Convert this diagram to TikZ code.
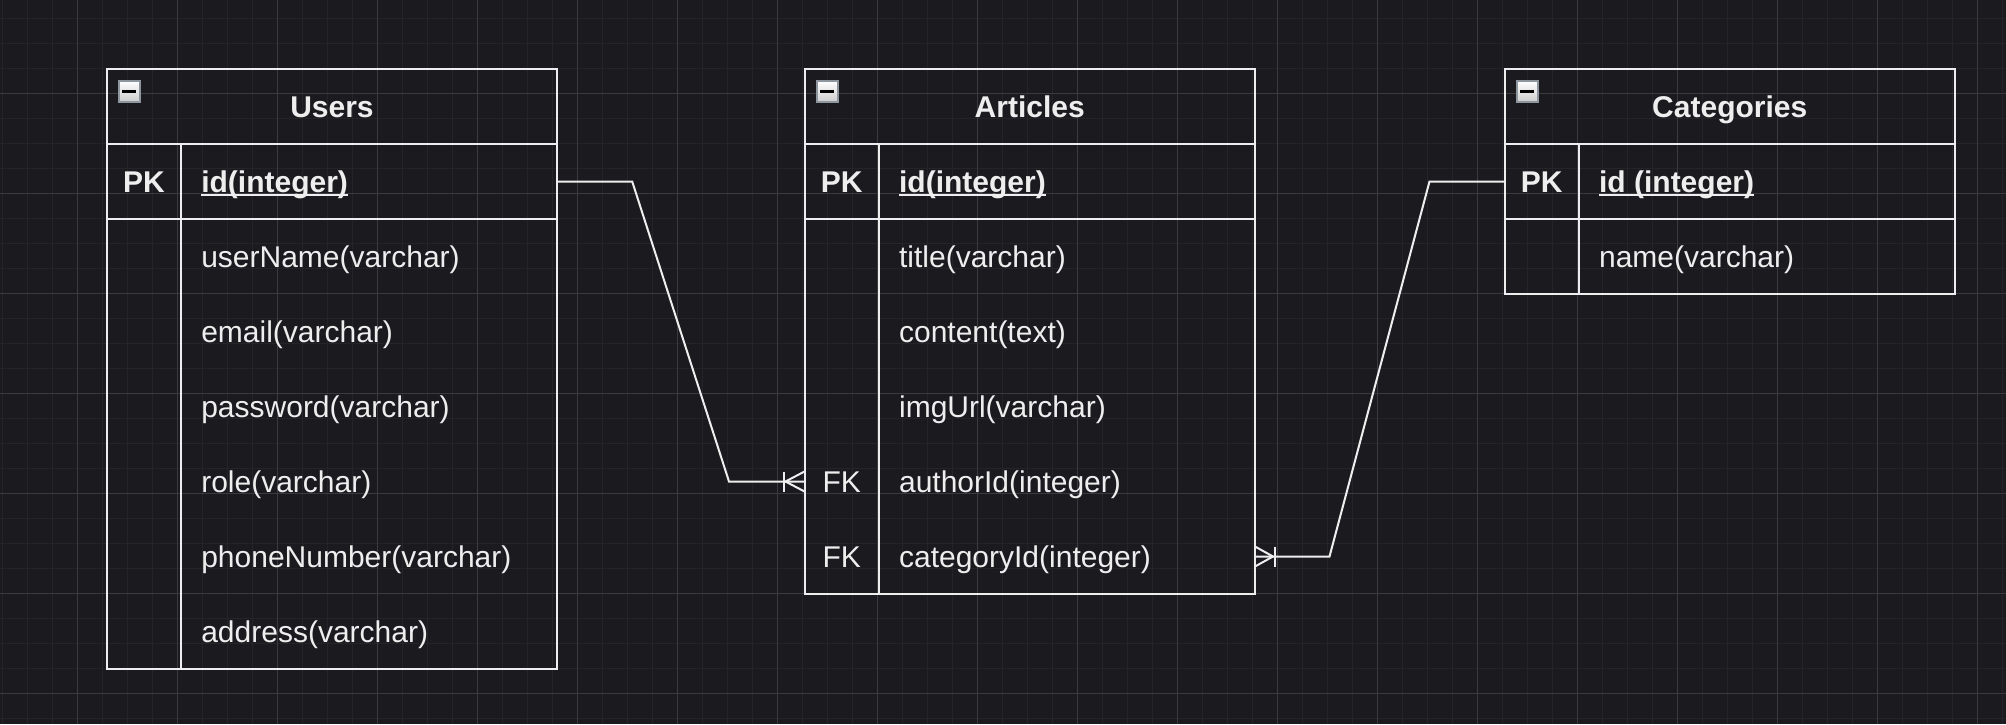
\documentclass[tikz,border=0pt]{standalone}
\usepackage{fontspec}
\setmainfont{Liberation Sans}
\usetikzlibrary{calc}
\definecolor{bg}{HTML}{1B1A1F}
\definecolor{gminor}{HTML}{252429}
\definecolor{gmajor}{HTML}{3B3A3F}
\definecolor{ink}{HTML}{EEEEEE}
\definecolor{iconborder}{HTML}{8E96A0}
\tikzset{
  gridminor/.style={draw=gminor, line width=1pt},
  gridmajor/.style={draw=gmajor, line width=1.2pt},
  tline/.style={draw=ink, line width=2pt},
  conn/.style={draw=ink, line width=2pt, line join=miter},
  titlebox/.style={draw=ink, line width=2pt, rectangle, minimum width=450.5pt, minimum height=75pt, inner sep=0pt, outer sep=0pt},
  bodybox/.style={draw=ink, line width=2pt, rectangle, minimum width=450.5pt, inner sep=0pt, outer sep=0pt},
  rowbox/.style={draw=none, rectangle, minimum width=450.5pt, minimum height=75pt, inner sep=0pt, outer sep=0pt},
  txt/.style={text=ink, inner sep=0pt, outer sep=0pt, font=\fontsize{30pt}{36pt}\selectfont},
  field/.style={txt, anchor=base west},
  keytxt/.style={txt, anchor=base},
  bfield/.style={txt, anchor=base west, font=\fontsize{30pt}{36pt}\selectfont\bfseries},
  bkey/.style={txt, anchor=base, font=\fontsize{30pt}{36pt}\selectfont\bfseries},
  ttl/.style={txt, anchor=base, font=\fontsize{30pt}{36pt}\selectfont\bfseries},
  icon/.style={rectangle, draw=iconborder, line width=2.2pt, top color=white, bottom color=black!20, minimum size=21pt, inner sep=0pt, outer sep=0pt},
  minus/.style={draw=black, line width=2.6pt},
  uline/.style={draw=ink, line width=1.8pt}
}
\begin{document}
\begin{tikzpicture}[x=1pt,y=-1pt]
% background and grid
\fill[bg] (0,0) rectangle (2006,724);
\useasboundingbox (0,0) rectangle (2006,724);
\foreach \i in {0,...,80} \draw[gridminor] ({2.7+25*\i},0) -- ({2.7+25*\i},724);
\foreach \j in {0,...,28} \draw[gridminor] (0,{18.3+25*\j}) -- (2006,{18.3+25*\j});
\foreach \i in {0,...,19} \draw[gridmajor] ({77.7+100*\i},0) -- ({77.7+100*\i},724);
\foreach \j in {0,...,6} \draw[gridmajor] (0,{93.3+100*\j}) -- (2006,{93.3+100*\j});

% ---------------- Users ----------------
\node[titlebox] (users) at (331.95,106.5) {};
\node[bodybox, minimum height=525pt] (users-body) at (331.95,406.5) {};
\draw[tline] ($(users-body.north west)+(74.6,0)$) -- ($(users-body.south west)+(74.6,0)$);
\draw[tline] ($(users-body.north west)+(0,75)$) -- ($(users-body.north east)+(0,75)$);
\node[icon] (users-icon) at (129.3,91.3) {};
\draw[minus] ($(users-icon.center)+(-7,0)$) -- ($(users-icon.center)+(7,0)$);
\node[ttl] (users-title) at (331.95,117.3) {Users};
\node[rowbox] (users-id) at (331.95,181.5) {};
\node[bkey] (users-pk) at (144,192.3) {PK};
\node[bfield] (users-f1) at (201.3,192.3) {id(integer)};
\draw[uline] ($(users-f1.base west)+(0,3)$) -- ($(users-f1.base east)+(0,3)$);
\node[field] (users-f2) at (201.3,267.3) {userName(varchar)};
\node[field] (users-f3) at (201.3,342.3) {email(varchar)};
\node[field] (users-f4) at (201.3,417.3) {password(varchar)};
\node[field] (users-f5) at (201.3,492.3) {role(varchar)};
\node[field] (users-f6) at (201.3,567.3) {phoneNumber(varchar)};
\node[field] (users-f7) at (201.3,642.3) {address(varchar)};

% ---------------- Articles ----------------
\node[titlebox] (articles) at (1029.75,106.5) {};
\node[bodybox, minimum height=450pt] (articles-body) at (1029.75,369) {};
\draw[tline] ($(articles-body.north west)+(74.6,0)$) -- ($(articles-body.south west)+(74.6,0)$);
\draw[tline] ($(articles-body.north west)+(0,75)$) -- ($(articles-body.north east)+(0,75)$);
\node[icon] (articles-icon) at (827.1,91.3) {};
\draw[minus] ($(articles-icon.center)+(-7,0)$) -- ($(articles-icon.center)+(7,0)$);
\node[ttl] (articles-title) at (1029.75,117.3) {Articles};
\node[bkey] (articles-pk) at (841.8,192.3) {PK};
\node[bfield] (articles-f1) at (899.1,192.3) {id(integer)};
\draw[uline] ($(articles-f1.base west)+(0,3)$) -- ($(articles-f1.base east)+(0,3)$);
\node[field] (articles-f2) at (899.1,267.3) {title(varchar)};
\node[field] (articles-f3) at (899.1,342.3) {content(text)};
\node[field] (articles-f4) at (899.1,417.3) {imgUrl(varchar)};
\node[rowbox] (articles-author) at (1029.75,481.5) {};
\node[keytxt] (articles-fk1) at (841.8,492.3) {FK};
\node[field] (articles-f5) at (899.1,492.3) {authorId(integer)};
\node[rowbox] (articles-category) at (1029.75,556.5) {};
\node[keytxt] (articles-fk2) at (841.8,567.3) {FK};
\node[field] (articles-f6) at (899.1,567.3) {categoryId(integer)};

% ---------------- Categories ----------------
\node[titlebox] (categories) at (1729.75,106.5) {};
\node[bodybox, minimum height=150pt] (categories-body) at (1729.75,219) {};
\draw[tline] ($(categories-body.north west)+(74.6,0)$) -- ($(categories-body.south west)+(74.6,0)$);
\draw[tline] ($(categories-body.north west)+(0,75)$) -- ($(categories-body.north east)+(0,75)$);
\node[icon] (categories-icon) at (1527.1,91.3) {};
\draw[minus] ($(categories-icon.center)+(-7,0)$) -- ($(categories-icon.center)+(7,0)$);
\node[ttl] (categories-title) at (1729.75,117.3) {Categories};
\node[rowbox] (categories-id) at (1729.75,181.5) {};
\node[bkey] (categories-pk) at (1541.8,192.3) {PK};
\node[bfield] (categories-f1) at (1599.1,192.3) {id (integer)};
\draw[uline] ($(categories-f1.base west)+(0,3)$) -- ($(categories-f1.base east)+(0,3)$);
\node[field] (categories-f2) at (1599.1,267.3) {name(varchar)};

% ---------------- Connectors ----------------
\draw[conn] (users-id.east) -- ++(75,0) -- ($(articles-author.west)+(-75.5,0)$) -- (articles-author.west);
\draw[conn] ($(articles-author.west)+(-19,0)$) -- ($(articles-author.west)+(0,-10)$);
\draw[conn] ($(articles-author.west)+(-19,0)$) -- ($(articles-author.west)+(0,10)$);
\draw[conn] ($(articles-author.west)+(-20.5,-10)$) -- ($(articles-author.west)+(-20.5,10)$);

\draw[conn] (categories-id.west) -- ++(-75,0) -- ($(articles-category.east)+(74.5,0)$) -- (articles-category.east);
\draw[conn] ($(articles-category.east)+(18,0)$) -- ($(articles-category.east)+(0,-10)$);
\draw[conn] ($(articles-category.east)+(18,0)$) -- ($(articles-category.east)+(0,10)$);
\draw[conn] ($(articles-category.east)+(20,-10)$) -- ($(articles-category.east)+(20,10)$);
\end{tikzpicture}
\end{document}
